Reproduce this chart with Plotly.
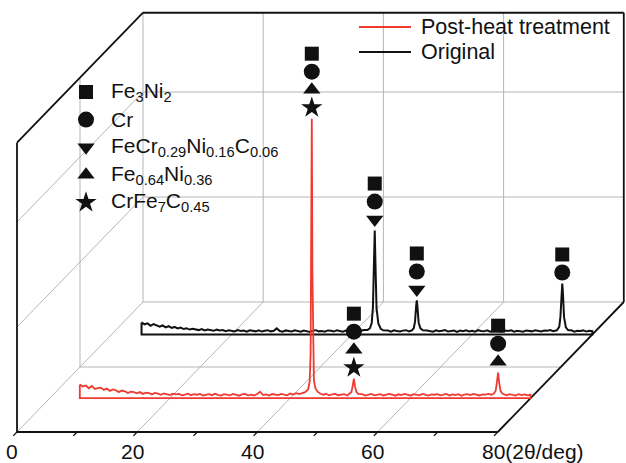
import numpy as np
import plotly.graph_objects as go

# ---------------------------------------------------------------- data
# background scans sampled every 0.5 deg from 5 to 80 deg (2-theta), a.u.
tt_start, tt_end, tt_step = 5.0, 80.0, 0.5

bg_post = [
    130, 112, 121, 95, 117, 88, 96, 101, 79, 92,
    70, 84, 76, 58, 73, 66, 50, 63, 57, 46,
    58, 41, 52, 49, 36, 50, 44, 33, 46, 39,
    30, 44, 37, 41, 28, 35, 43, 27, 38, 33,
    40, 26, 34, 39, 29, 42, 31, 25, 38, 35,
    27, 40, 33, 24, 37, 41, 28, 34, 26, 39,
    62, 30, 36, 25, 40, 33, 29, 41, 32, 27,
    44, 35, 48, 39, 50, 55, 70, 90, 60, 48,
    46, 33, 40, 27, 36, 41, 28, 35, 38, 26,
    40, 44, 41, 30, 38, 25, 36, 40, 27, 33,
    39, 26, 31, 40, 34, 24, 37, 29, 41, 32,
    26, 38, 35, 27, 40, 31, 25, 37, 33, 39,
    28, 34, 41, 26, 36, 30, 39, 24, 35, 38,
    29, 40, 32, 26, 37, 34, 41, 33, 40, 44,
    42, 36, 28, 39, 33, 25, 38, 30, 36, 27,
    34,
]

bg_orig = [
    115, 97, 106, 83, 99, 88, 74, 86, 68, 79,
    63, 72, 58, 66, 52, 60, 47, 55, 51, 42,
    52, 39, 47, 44, 35, 46, 38, 42, 31, 40,
    37, 29, 42, 34, 38, 27, 40, 33, 30, 39,
    28, 36, 41, 30, 35, 58, 33, 26, 39, 34,
    29, 40, 35, 27, 38, 32, 25, 37, 41, 30,
    34, 26, 39, 36, 28, 41, 32, 27, 38, 35,
    30, 41, 37, 35, 42, 48, 60, 90, 70, 50,
    44, 32, 38, 27, 40, 34, 29, 37, 41, 30,
    40, 60, 48, 33, 27, 39, 35, 26, 40, 31,
    36, 42, 28, 34, 38, 25, 37, 31, 40, 29,
    35, 27, 41, 33, 30, 39, 26, 36, 42, 31,
    28, 37, 34, 40, 27, 35, 31, 26, 39, 36,
    30, 41, 33, 28, 38, 35, 43, 32, 45, 70,
    60, 38, 31, 40, 27, 36, 33, 39, 28, 35,
    32,
]

# diffraction peak profiles (2-theta, intensity)
pk_post_tt = [42.0, 42.5, 43.0, 43.25, 43.4, 43.5, 43.6, 43.7, 43.8, 43.95, 44.2, 44.6, 45.0,
              49.9, 50.2, 50.4, 50.6, 50.8, 51.0, 51.3,
              73.9, 74.2, 74.4, 74.6, 74.8, 75.0, 75.3]
pk_post_I = [48, 58, 85, 160, 420, 1250, 2662, 1200, 400, 170, 95, 60, 45,
             42, 60, 115, 186, 110, 62, 42,
             44, 72, 150, 243, 140, 70, 45]

pk_orig_tt = [42.6, 43.0, 43.3, 43.5, 43.65, 43.8, 43.95, 44.1, 44.4, 44.8, 45.2,
              50.0, 50.3, 50.5, 50.7, 50.8, 50.9, 51.1, 51.4, 51.8,
              74.1, 74.5, 74.7, 74.9, 75.0, 75.1, 75.3, 75.6, 76.0]
pk_orig_I = [42, 60, 110, 260, 620, 990, 600, 250, 105, 55, 40,
             40, 62, 120, 280, 324, 270, 115, 58, 40,
             40, 72, 170, 420, 486, 410, 165, 68, 40]

# phase identification of each peak (indices into phase lists, top to bottom)
post_peaks_tt = [43.6, 50.6, 74.6]
post_peaks_I = [2662, 186, 243]
post_peaks_phase = [[0, 1, 3, 4], [0, 1, 3, 4], [0, 1, 3]]

orig_peaks_tt = [43.8, 50.8, 75.0]
orig_peaks_I = [990, 324, 486]
orig_peaks_phase = [[0, 1, 2], [0, 1, 2], [0, 1]]

phase_names = [
    "Fe<sub>3</sub>Ni<sub>2</sub>",
    "Cr",
    "FeCr<sub>0.29</sub>Ni<sub>0.16</sub>C<sub>0.06</sub>",
    "Fe<sub>0.64</sub>Ni<sub>0.36</sub>",
    "CrFe<sub>7</sub>C<sub>0.45</sub>",
]
phase_symbols = ["square", "circle", "triangle-down", "triangle-up", "star"]
phase_sizes = [14, 16, 15, 15, 16]

series_names = ["Post-heat treatment", "Original"]
series_colors = ["#f03a30", "#111111"]
series_widths = [1.8, 2.0]
series_depth = [0.26, 0.75]

x_ticks = [0, 20, 40, 60, 80]
x_tick_text = ["0", "20", "40", "60", "80(2θ/deg)"]
x_minor = [10, 30, 50, 70]
grid_I = [1000, 2000]
I_top = 2755

# ---------------------------------------------------------------- geometry
W, H = 626, 463
KX = 6.01            # px per degree
KY = 0.105           # px per intensity unit
X0_PX, Y0_PX = 17, 432
DX = 126 / KX        # depth shift (deg units)
DY = 130 / KY        # depth shift (intensity units)

x_range = [-X0_PX / KX, (W - X0_PX) / KX]
y_range = [(Y0_PX - H) / KY, Y0_PX / KY]

FONT = "Liberation Sans, Arial, sans-serif"
GRAY = "#b5b5b5"
BLACK = "#111111"


def proj(tt, d, I):
    return tt + d * DX, I + d * DY


def px2I(p):
    return p / KY


def build_series(bg, pk_tt, pk_I):
    tt_bg = np.arange(tt_start, tt_end + tt_step / 2, tt_step)
    pk_tt = np.asarray(pk_tt, float)
    keep = [np.min(np.abs(pk_tt - t)) >= 0.3 for t in tt_bg]
    tt = np.concatenate([tt_bg[keep], pk_tt])
    I = np.concatenate([np.asarray(bg, float)[keep], np.asarray(pk_I, float)])
    order = np.argsort(tt)
    return tt[order], I[order]


fig = go.Figure()
shapes = []


def seg(p, q, color, width):
    shapes.append(dict(type="line", xref="x", yref="y",
                       x0=p[0], y0=p[1], x1=q[0], y1=q[1],
                       line=dict(color=color, width=width), layer="below"))


# gray grid: back wall
for t in x_ticks[:-1]:
    seg(proj(t, 1, 0), proj(t, 1, I_top), GRAY, 1)
for g in [0] + grid_I:
    seg(proj(0, 1, g), proj(80, 1, g), GRAY, 1)
# floor
for t in x_ticks[:-1]:
    seg(proj(t, 0, 0), proj(t, 1, 0), GRAY, 1)
seg(proj(0, 0.5, 0), proj(80, 0.5, 0), GRAY, 1)
# left wall
for g in grid_I:
    seg(proj(0, 0, g), proj(0, 1, g), GRAY, 1)
seg(proj(0, 0.5, 0), proj(0, 0.5, I_top), GRAY, 1)

# black frame
BW = 1.8
seg(proj(0, 0, 0), proj(80, 0, 0), BLACK, BW)
seg(proj(0, 0, 0), proj(0, 0, I_top), BLACK, BW)
seg(proj(0, 0, I_top), proj(0, 1, I_top), BLACK, BW)
seg(proj(0, 1, I_top), proj(80, 1, I_top), BLACK, BW)
seg(proj(80, 1, I_top), proj(80, 1, 0), BLACK, BW)
seg(proj(80, 1, 0), proj(80, 0, 0), BLACK, BW)
for t in x_ticks + x_minor:
    seg(proj(t, 0, 0), proj(t, -0.03, 0), BLACK, 1.3)

# scans, back one first
series_data = [
    build_series(bg_post, pk_post_tt, pk_post_I),
    build_series(bg_orig, pk_orig_tt, pk_orig_I),
]
for i in [1, 0]:
    tt, I = series_data[i]
    d = series_depth[i]
    path_tt = np.concatenate([tt, [tt[-1], tt[0], tt[0]]])
    path_I = np.concatenate([I, [0, 0, I[0]]])
    x, y = proj(path_tt, d, path_I)
    fig.add_trace(go.Scatter(x=x, y=y, mode="lines",
                             line=dict(color=series_colors[i], width=series_widths[i]),
                             hoverinfo="skip"))

# phase markers stacked above each peak
GAP, STEP = px2I(11), px2I(18)
for i, (ptt, pI, pph) in enumerate([(post_peaks_tt, post_peaks_I, post_peaks_phase),
                                   (orig_peaks_tt, orig_peaks_I, orig_peaks_phase)]):
    d = series_depth[i]
    for t, h, phases in zip(ptt, pI, pph):
        for k, ph in enumerate(reversed(phases)):
            x, y = proj(t, d, h + GAP + k * STEP)
            fig.add_trace(go.Scatter(
                x=[x], y=[y], mode="markers",
                marker=dict(symbol=phase_symbols[ph], size=phase_sizes[ph],
                            color=BLACK, line=dict(width=0)),
                hoverinfo="skip"))

# phase key (pixel overlay axes)
key_x, key_y0, key_dy = 86, 92, 27.6
for k, ph in enumerate(range(len(phase_names))):
    ky = key_y0 + k * key_dy
    fig.add_trace(go.Scatter(
        x=[key_x], y=[ky], xaxis="x2", yaxis="y2", mode="markers",
        marker=dict(symbol=phase_symbols[ph], size=phase_sizes[ph],
                    color=BLACK, line=dict(width=0)),
        hoverinfo="skip"))

annotations = []
for k, name in enumerate(phase_names):
    ky = key_y0 + k * key_dy
    annotations.append(dict(
        x=109, y=ky, xref="x2", yref="y2", text=name, showarrow=False,
        xanchor="left", yanchor="middle",
        font=dict(family=FONT, size=21, color=BLACK)))

# series key
for k, (name, col) in enumerate(zip(series_names, series_colors)):
    ky = 27 + k * 25
    shapes.append(dict(type="line", xref="x2", yref="y2", x0=359, x1=411, y0=ky, y1=ky,
                       line=dict(color=col, width=1.8)))
    annotations.append(dict(
        x=419, y=ky, xref="x2", yref="y2", text=name, showarrow=False,
        xanchor="left", yanchor="middle",
        font=dict(family=FONT, size=21.5, color=BLACK)))

# 2-theta tick labels
for t, lab in zip(x_ticks, x_tick_text):
    x, y = proj(t, 0, 0)
    last = lab != str(t)
    annotations.append(dict(
        x=x, y=y, xref="x", yref="y", text=lab, showarrow=False,
        xanchor="left" if last else "center", yanchor="middle",
        xshift=-18 if last else -5, yshift=-19,
        font=dict(family=FONT, size=21, color=BLACK)))

fig.update_layout(
    width=W, height=H, autosize=False,
    margin=dict(l=0, r=0, t=0, b=0, pad=0),
    paper_bgcolor="white", plot_bgcolor="white",
    showlegend=False,
    xaxis=dict(range=x_range, visible=False, fixedrange=True),
    yaxis=dict(range=y_range, visible=False, fixedrange=True),
    xaxis2=dict(range=[0, W], visible=False, overlaying="x", fixedrange=True),
    yaxis2=dict(range=[H, 0], visible=False, overlaying="y", fixedrange=True),
    shapes=shapes,
    annotations=annotations,
)

fig.write_html("out.html")
